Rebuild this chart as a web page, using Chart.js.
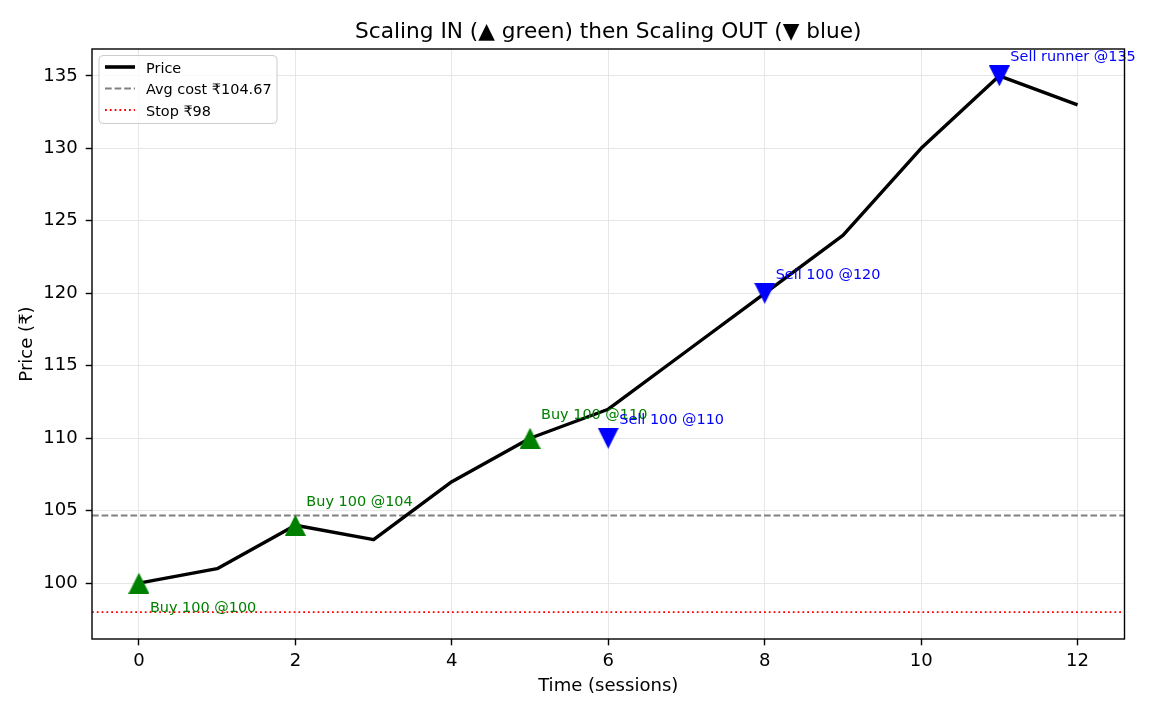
<!DOCTYPE html>
<html>
<head>
<meta charset="utf-8">
<script src="https://cdn.jsdelivr.net/npm/chart.js@4.4.1/dist/chart.umd.min.js"></script>
<style>
html,body{margin:0;padding:0;background:#ffffff;}
#wrap{width:1170px;height:715px;position:relative;}
</style>
</head>
<body>
<div id="wrap"><canvas id="c" width="1170" height="715"></canvas></div>
<script>
// ---- data ----
const sessions = [0,1,2,3,4,5,6,7,8,9,10,11,12];
const prices = [100,101,104,103,107,110,112,116,120,124,130,135,133];
const buySessions = [0,2,5];
const buyPrices = [100,104,110];
const buyLabels = ['Buy 100 @100','Buy 100 @104','Buy 100 @110'];
const sellSessions = [6,8,11];
const sellPrices = [110,120,135];
const sellLabels = ['Sell 100 @110','Sell 100 @120','Sell runner @135'];
const avgCost = 104.67;
const stopPrice = 98;
const xTickValues = [0,2,4,6,8,10,12];
const yTickValues = [100,105,110,115,120,125,130,135];
const xLimits = [-0.6, 12.6];
const yLimits = [96.15, 136.85];
const titleText = 'Scaling IN (\u25B2 green) then Scaling OUT (\u25BC blue)';
const xAxisLabel = 'Time (sessions)';
const yAxisLabel = 'Price (\u20B9)';
const legendLabels = ['Price', 'Avg cost \u20B9104.67', 'Stop \u20B998'];

// ---- styles ----
const FONT = '"DejaVu Sans", "Liberation Sans", sans-serif';
const tickFont = {family: FONT, size: 18.06};
const SMALL = 14.44;
const GREEN = '#008000', BLUE = '#0000ff';
const DASH = [6.7, 2.9], DOT = [1.8, 3.0];

function triangle(color, up) {
  const s = 21;
  const c = document.createElement('canvas');
  c.width = s; c.height = s;
  const g = c.getContext('2d');
  g.fillStyle = color;
  g.beginPath();
  if (up) { g.moveTo(s/2, 0); g.lineTo(s, s); g.lineTo(0, s); }
  else { g.moveTo(0, 0); g.lineTo(s, 0); g.lineTo(s/2, s); }
  g.closePath();
  g.fill();
  return c;
}

const refLines = {
  id: 'refLines',
  beforeDatasetsDraw(chart) {
    const {ctx, chartArea: a, scales: {y}} = chart;
    ctx.save();
    ctx.beginPath(); ctx.rect(a.left, a.top, a.right - a.left, a.bottom - a.top); ctx.clip();
    let py = y.getPixelForValue(avgCost);
    ctx.strokeStyle = '#808080'; ctx.lineWidth = 1.8; ctx.setLineDash(DASH);
    ctx.beginPath(); ctx.moveTo(a.left, py); ctx.lineTo(a.right, py); ctx.stroke();
    py = y.getPixelForValue(stopPrice);
    ctx.strokeStyle = '#ff0000'; ctx.lineWidth = 1.8; ctx.setLineDash(DOT);
    ctx.beginPath(); ctx.moveTo(a.left, py); ctx.lineTo(a.right, py); ctx.stroke();
    ctx.restore();
  }
};

const annotations = {
  id: 'annotations',
  afterDatasetsDraw(chart) {
    const {ctx, scales: {x, y}} = chart;
    ctx.save();
    ctx.font = SMALL + 'px ' + FONT;
    ctx.textAlign = 'left';
    ctx.textBaseline = 'alphabetic';
    ctx.fillStyle = GREEN;
    buyLabels.forEach((t, i) => {
      const px = x.getPixelForValue(buySessions[i]) + 11;
      const py = y.getPixelForValue(buyPrices[i]) + (i === 0 ? 29 : -19);
      ctx.fillText(t, px, py);
    });
    ctx.fillStyle = BLUE;
    sellLabels.forEach((t, i) => {
      const px = x.getPixelForValue(sellSessions[i]) + 11;
      const py = y.getPixelForValue(sellPrices[i]) - 14.5;
      ctx.fillText(t, px, py);
    });
    ctx.restore();
  }
};

const frame = {
  id: 'frame',
  afterDraw(chart) {
    const {ctx, chartArea: a} = chart;
    ctx.save();
    ctx.strokeStyle = '#000'; ctx.lineWidth = 1.4;
    ctx.strokeRect(a.left, a.top, a.right - a.left, a.bottom - a.top);
    // title
    ctx.fillStyle = '#000';
    ctx.font = '21.67px ' + FONT;
    ctx.textAlign = 'center'; ctx.textBaseline = 'alphabetic';
    ctx.fillText(titleText, (a.left + a.right) / 2, a.top - 11);
    // legend
    const lx = a.left + 7, ly = a.top + 6.5;
    const w = 178, h = 68, r = 4;
    ctx.beginPath();
    ctx.roundRect(lx, ly, w, h, r);
    ctx.fillStyle = 'rgba(255,255,255,0.8)'; ctx.fill();
    ctx.strokeStyle = '#cccccc'; ctx.lineWidth = 1; ctx.stroke();
    const styles = [
      {c: '#000', w: 3.6, d: []},
      {c: '#808080', w: 1.8, d: DASH},
      {c: '#ff0000', w: 1.8, d: DOT}
    ];
    ctx.font = SMALL + 'px ' + FONT;
    ctx.textAlign = 'left'; ctx.textBaseline = 'alphabetic';
    legendLabels.forEach((t, i) => {
      const yy = ly + 11.5 + i * 21.5;
      const s = styles[i];
      ctx.strokeStyle = s.c; ctx.lineWidth = s.w; ctx.setLineDash(s.d);
      ctx.beginPath(); ctx.moveTo(lx + 6, yy); ctx.lineTo(lx + 36, yy); ctx.stroke();
      ctx.setLineDash([]);
      ctx.fillStyle = '#000';
      ctx.fillText(t, lx + 47, yy + 5.5);
    });
    ctx.restore();
  }
};

new Chart(document.getElementById('c'), {
  type: 'line',
  data: {
    datasets: [
      {
        label: 'Buys', type: 'scatter',
        data: buySessions.map((s, i) => ({x: s, y: buyPrices[i]})),
        pointStyle: triangle(GREEN, true), pointRadius: 10,
        backgroundColor: GREEN, borderColor: GREEN, showLine: false, order: 1
      },
      {
        label: 'Sells', type: 'scatter',
        data: sellSessions.map((s, i) => ({x: s, y: sellPrices[i]})),
        pointStyle: triangle(BLUE, false), pointRadius: 10,
        backgroundColor: BLUE, borderColor: BLUE, showLine: false, order: 1
      },
      {
        label: 'Price',
        data: sessions.map((s, i) => ({x: s, y: prices[i]})),
        borderColor: '#000', borderWidth: 3.4, pointRadius: 0, fill: false,
        tension: 0, order: 2, borderJoinStyle: 'round', borderCapStyle: 'butt'
      }
    ]
  },
  options: {
    responsive: false,
    animation: false,
    devicePixelRatio: 1,
    layout: {padding: {left: 0, right: 45.5, top: 49, bottom: 0}},
    plugins: {legend: {display: false}, tooltip: {enabled: false}, title: {display: false}},
    scales: {
      x: {
        type: 'linear', min: xLimits[0], max: xLimits[1],
        afterBuildTicks: s => { s.ticks = xTickValues.map(v => ({value: v})); },
        afterFit: s => { s.height = 76; },
        ticks: {font: tickFont, color: '#000', padding: 5, autoSkip: false, maxRotation: 0},
        grid: {color: '#e6e6e6', lineWidth: 1, tickColor: '#000', tickLength: 6.3, tickWidth: 1.4},
        border: {display: false},
        title: {display: true, text: xAxisLabel, color: '#000', font: tickFont, padding: {top: 0, bottom: 18}}
      },
      y: {
        type: 'linear', min: yLimits[0], max: yLimits[1],
        afterBuildTicks: s => { s.ticks = yTickValues.map(v => ({value: v})); },
        afterFit: s => { s.width = 92; },
        ticks: {font: tickFont, color: '#000', padding: 8, autoSkip: false},
        grid: {color: '#e6e6e6', lineWidth: 1, tickColor: '#000', tickLength: 6.3, tickWidth: 1.4},
        border: {display: false},
        title: {display: true, text: yAxisLabel, color: '#000', font: tickFont, padding: {top: 16.5, bottom: 0}}
      }
    }
  },
  plugins: [refLines, annotations, frame]
});
</script>
</body>
</html>
